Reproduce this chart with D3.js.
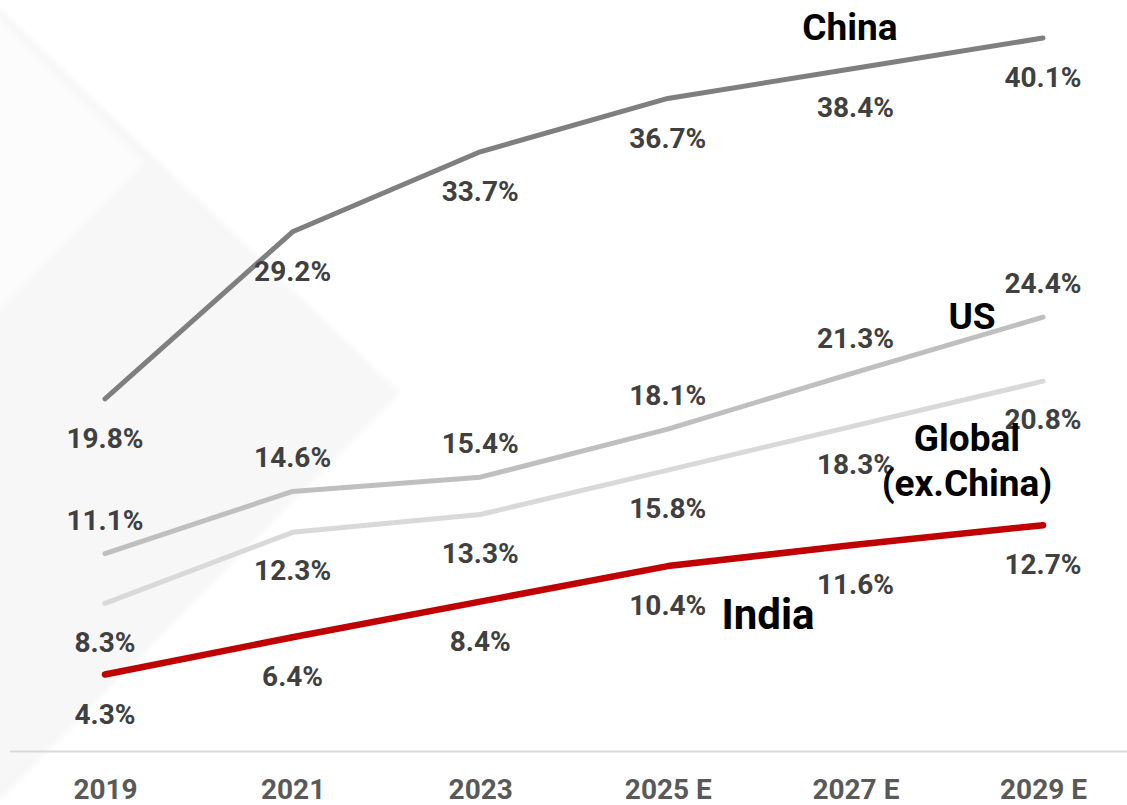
<!DOCTYPE html>
<html>
<head>
<meta charset="utf-8">
<script src="https://cdn.jsdelivr.net/npm/d3@7"></script>
<style>
  html, body { margin: 0; padding: 0; background: #ffffff; }
  svg { display: block; }
  text { font-family: Roboto, "Noto Sans", sans-serif; }
</style>
</head>
<body>
<div id="chart"></div>
<script>
// Years on the horizontal axis
const years = ["2019", "2021", "2023", "2025 E", "2027 E", "2029 E"];

// Penetration share (%) per market
const china  = [19.8, 29.2, 33.7, 36.7, 38.4, 40.1];
const us     = [11.1, 14.6, 15.4, 18.1, 21.3, 24.4];
const global = [8.3, 12.3, 13.3, 15.8, 18.3, 20.8];
const india  = [4.3, 6.4, 8.4, 10.4, 11.6, 12.7];

// Series names shown beside the lines
const seriesNames = ["China", "US", "Global", "India"];

const W = 1127, H = 805;
const svg = d3.select("#chart").append("svg")
  .attr("width", W).attr("height", H);

// soft decorative diamond in the background
const defs = svg.append("defs");
defs.append("filter").attr("id", "soft")
  .append("feGaussianBlur").attr("stdDeviation", 2.5);
const bg = svg.append("g").attr("filter", "url(#soft)");
bg.append("polygon")
  .attr("points", "-20,-10 400,393 -20,820")
  .attr("fill", "#f7f7f7");
bg.append("polygon")
  .attr("points", "-20,0 145,162 -20,330")
  .attr("fill", "#fcfcfc");

const x = d3.scalePoint().domain(years).range([105, 1043]);
const y = d3.scaleLinear().domain([0, 40.1]).range([751, 38]);

// bottom axis: baseline rule plus year labels
const axis = d3.axisBottom(x).tickSize(0).tickPadding(0);
const gAxis = svg.append("g").attr("transform", "translate(0,751)").call(axis);
gAxis.select(".domain").remove();
gAxis.append("line")
  .attr("x1", 10).attr("x2", W).attr("y1", 0.5).attr("y2", 0.5)
  .attr("stroke", "#d9d9d9").attr("stroke-width", 2);
gAxis.selectAll(".tick text")
  .attr("dy", null).attr("y", 48)
  .attr("font-size", 28).attr("font-weight", 700)
  .attr("fill", "#595959")
  .attr("font-family", "Roboto, sans-serif");

const series = [
  { name: "Global", values: global, color: "#d9d9d9", width: 5, dy: 38 },
  { name: "US",     values: us,     color: "#bfbfbf", width: 5, dy: -34 },
  { name: "China",  values: china,  color: "#7f7f7f", width: 5, dy: 39 },
  { name: "India",  values: india,  color: "#c00000", width: 6.5, dy: 39 }
];

const line = d3.line()
  .x((d, i) => x(years[i]))
  .y(d => y(d));

svg.append("g").selectAll("path")
  .data(series)
  .join("path")
  .attr("d", s => line(s.values))
  .attr("fill", "none")
  .attr("stroke", s => s.color)
  .attr("stroke-width", s => s.width)
  .attr("stroke-linecap", "round")
  .attr("stroke-linejoin", "round");

// value labels
const lbl = svg.append("g");
series.forEach(s => {
  lbl.selectAll(null)
    .data(s.values)
    .join("text")
    .attr("x", (d, i) => x(years[i]))
    .attr("y", d => y(d) + s.dy)
    .attr("dy", "0.36em")
    .attr("text-anchor", "middle")
    .attr("font-size", 28)
    .attr("font-weight", 700)
    .attr("fill", "#404040")
    .text(d => d.toFixed(1) + "%");
});

// series names
const names = svg.append("g")
  .attr("font-size", 37).attr("font-weight", 700).attr("fill", "#000")
  .attr("text-anchor", "middle");
names.append("text").attr("x", 850).attr("y", 40).text(seriesNames[0]);
names.append("text").attr("x", 972).attr("y", 329).text(seriesNames[1]);
const g = names.append("text").attr("x", 967).attr("y", 451);
g.append("tspan").attr("x", 967).text(seriesNames[2]);
g.append("tspan").attr("x", 967).attr("dy", 45).text("(ex.China)");
names.append("text").attr("x", 768).attr("y", 629)
  .attr("font-size", 42).text(seriesNames[3]);
</script>
</body>
</html>
